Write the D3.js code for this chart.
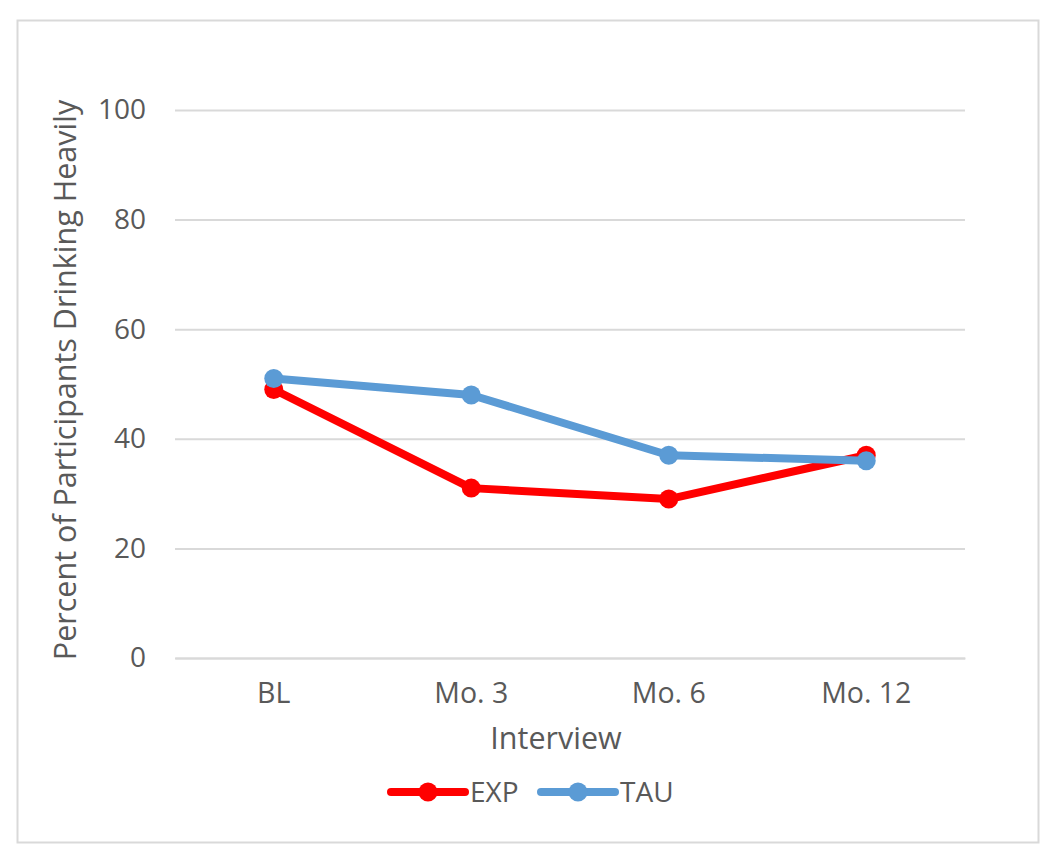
<!DOCTYPE html>
<html><head><meta charset="utf-8">
<script src="https://cdn.jsdelivr.net/npm/d3@7"></script>
<style>body{margin:0;background:#fff}svg{display:block}text{font-family:"Open Sans",sans-serif;fill:#595959}</style>
</head><body>
<svg id="c" width="1050" height="859"></svg>
<script>
const categories = ["BL", "Mo. 3", "Mo. 6", "Mo. 12"];
const expValues = [49, 31, 29, 37];
const tauValues = [51, 48, 37, 36];
const yTicks = [0, 20, 40, 60, 80, 100];
const seriesNames = ["EXP", "TAU"];
const seriesColors = ["#FF0000", "#5B9BD5"];

(function () {
const svg = d3.select("#c");
svg.append("rect").attr("x", 17.5).attr("y", 20.5).attr("width", 1021).attr("height", 822)
  .attr("fill", "#fff").attr("stroke", "#d9d9d9").attr("stroke-width", 2);

const mLeft = 175, mRight = 965, mTop = 110, mBottom = 658;
const x = d3.scaleBand().domain(categories).range([mLeft, mRight]);
const y = d3.scaleLinear().domain([0, 100]).range([mBottom, mTop]);

const yAxis = svg.append("g").attr("transform", `translate(${mLeft},0)`)
  .call(d3.axisLeft(y).tickValues(yTicks).tickSize(-(mRight - mLeft)).tickPadding(29));
yAxis.select(".domain").remove();
yAxis.selectAll(".tick line").attr("stroke", "#d9d9d9").attr("stroke-width", 2);
yAxis.selectAll(".tick text").style("font-size", "28px").attr("fill", "#595959");

const xAxis = svg.append("g").attr("transform", `translate(0,${mBottom})`)
  .call(d3.axisBottom(x).tickSize(0).tickPadding(25));
xAxis.select(".domain").attr("stroke", "#d9d9d9").attr("stroke-width", 2);
xAxis.selectAll(".tick text").style("font-size", "28.5px").attr("fill", "#595959");

svg.append("text").attr("x", 556).attr("y", 749).attr("text-anchor", "middle")
  .style("font-size", "30.5px").text("Interview");
svg.append("text").attr("transform", "translate(76,380) rotate(-90)").attr("text-anchor", "middle")
  .style("font-size", "30.5px").text("Percent of Participants Drinking Heavily");

const series = [expValues, tauValues];
const line = d3.line().x((d, i) => x(categories[i]) + x.bandwidth() / 2).y(d => y(d));
series.forEach((vals, s) => {
  svg.append("path").datum(vals).attr("d", line).attr("fill", "none")
    .attr("stroke", seriesColors[s]).attr("stroke-width", 8).attr("stroke-linejoin", "round");
  svg.selectAll(null).data(vals).enter().append("circle")
    .attr("cx", (d, i) => x(categories[i]) + x.bandwidth() / 2).attr("cy", d => y(d))
    .attr("r", 9.5).attr("fill", seriesColors[s]);
});

const legX = [391, 541];
seriesNames.forEach((n, s) => {
  const g = svg.append("g").attr("transform", `translate(${legX[s]},792)`);
  g.append("line").attr("x1", 0).attr("x2", 74).attr("stroke", seriesColors[s]).attr("stroke-width", 8).attr("stroke-linecap", "round");
  g.append("circle").attr("cx", 37).attr("r", 9.5).attr("fill", seriesColors[s]);
  g.append("text").attr("x", 79).attr("y", 10).style("font-size", "28px").text(n);
});
})();
</script>
</body></html>
